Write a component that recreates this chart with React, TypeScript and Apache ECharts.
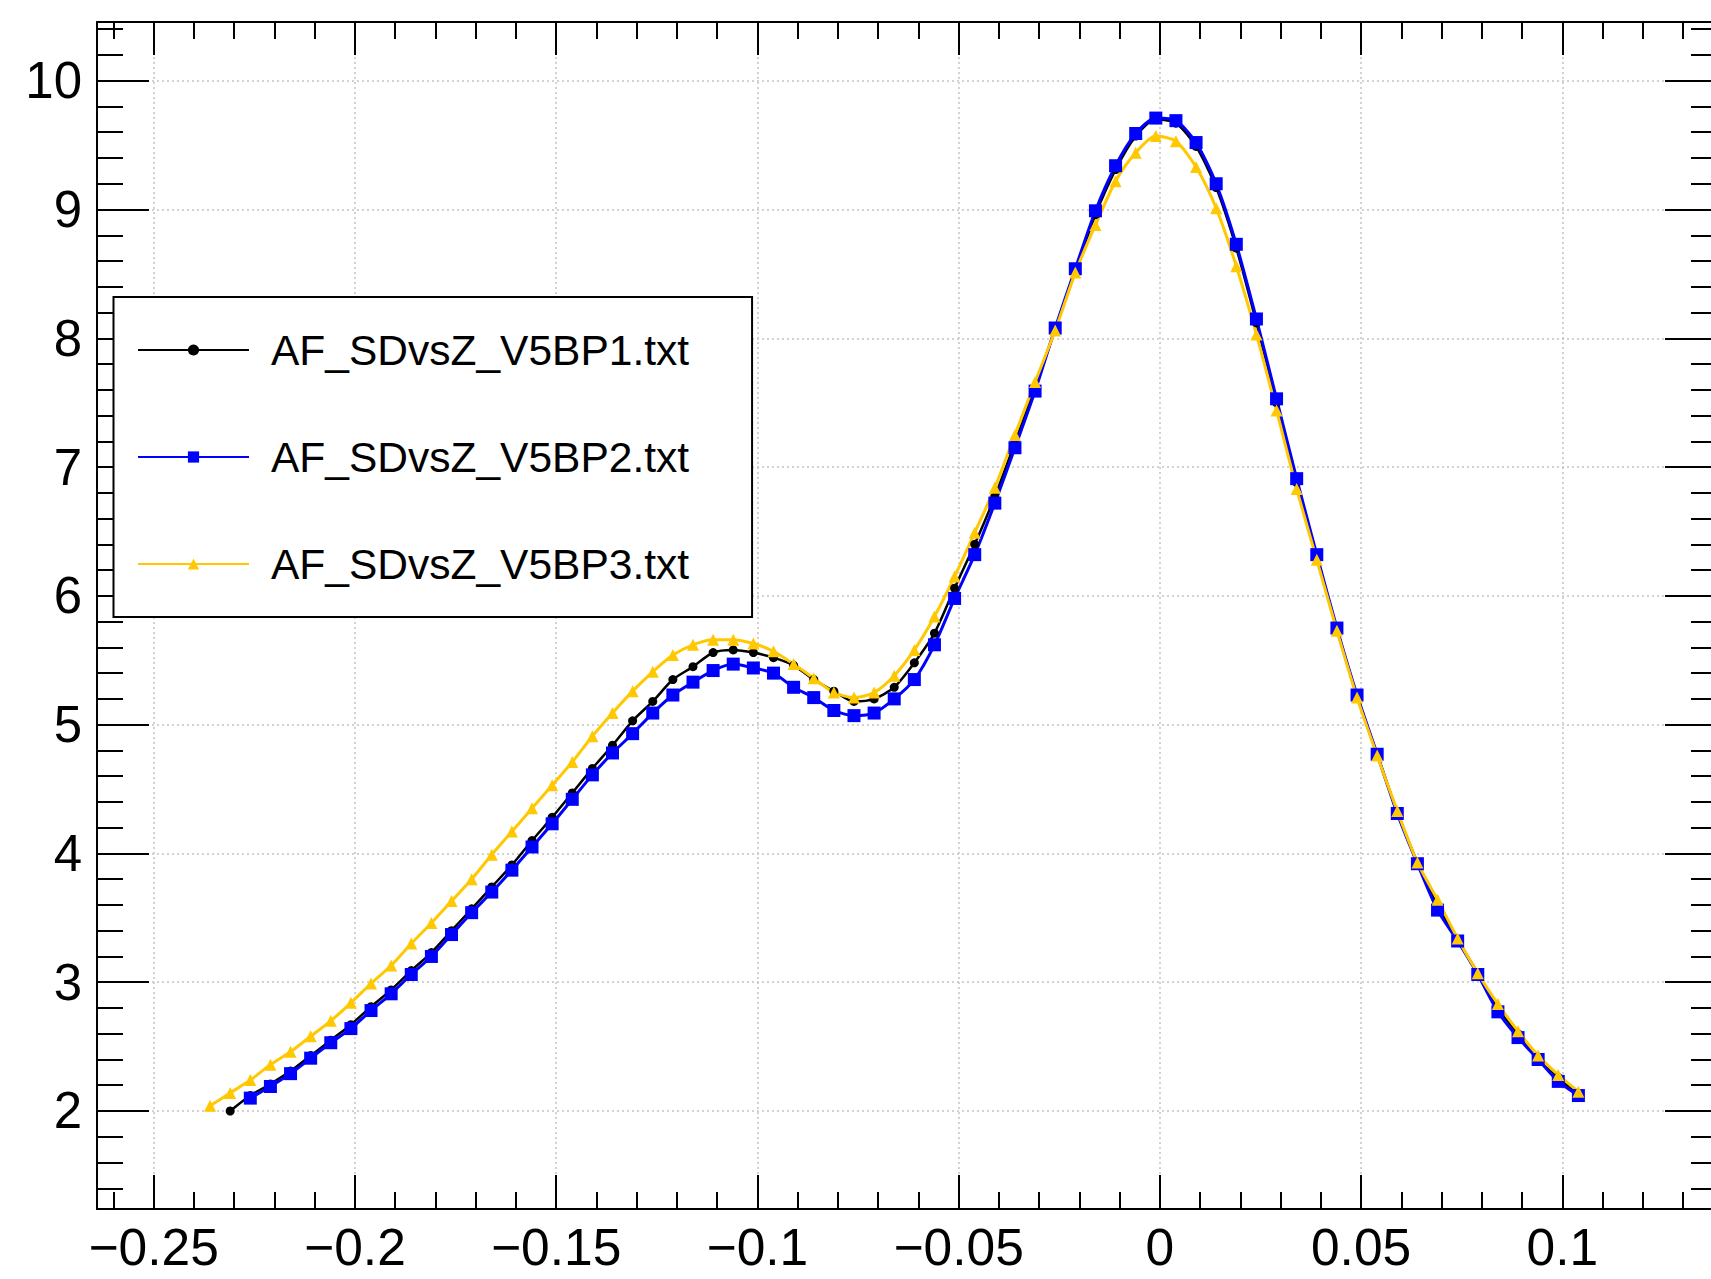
import React, { useEffect, useRef } from "react";
import * as echarts from "echarts";

// ---- data ----
const X_VALUES = [
  -0.236, -0.231, -0.226, -0.221, -0.216, -0.211, -0.206, -0.201, -0.196, -0.191,
  -0.186, -0.181, -0.176, -0.171, -0.166, -0.161, -0.156, -0.151, -0.146, -0.141,
  -0.136, -0.131, -0.126, -0.121, -0.116, -0.111, -0.106, -0.101, -0.096, -0.091,
  -0.086, -0.081, -0.076, -0.071, -0.066, -0.061, -0.056, -0.051, -0.046, -0.041,
  -0.036, -0.031, -0.026, -0.021, -0.016, -0.011, -0.006, -0.001, 0.004, 0.009,
  0.014, 0.019, 0.024, 0.029, 0.034, 0.039, 0.044, 0.049, 0.054, 0.059,
  0.064, 0.069, 0.074, 0.079, 0.084, 0.089, 0.094, 0.099, 0.104,
];

// V5BP1 (black) starts at X_VALUES[1]
const BP1_VALUES = [
  2.0, 2.12, 2.21, 2.31, 2.43, 2.55, 2.67, 2.81, 2.94,
  3.09, 3.23, 3.4, 3.57, 3.74, 3.91, 4.1, 4.28, 4.47, 4.66,
  4.84, 5.03, 5.18, 5.35, 5.45, 5.56, 5.58, 5.56, 5.52, 5.46,
  5.35, 5.26, 5.18, 5.2, 5.29, 5.48, 5.71, 6.06, 6.4, 6.77,
  7.19, 7.62, 8.07, 8.52, 8.96, 9.31, 9.57, 9.7, 9.67, 9.49,
  9.17, 8.7, 8.12, 7.5, 6.88, 6.3, 5.74, 5.22, 4.77, 4.32,
  3.93, 3.6, 3.33, 3.07, 2.8, 2.6, 2.42, 2.26, 2.13,
];

// V5BP2 (blue) starts at X_VALUES[2]
const BP2_VALUES = [
  2.1, 2.19, 2.29, 2.41, 2.53, 2.64, 2.78, 2.91,
  3.06, 3.2, 3.37, 3.54, 3.7, 3.87, 4.05, 4.23, 4.42, 4.61,
  4.78, 4.93, 5.09, 5.23, 5.33, 5.42, 5.47, 5.44, 5.4, 5.29,
  5.21, 5.11, 5.07, 5.09, 5.2, 5.35, 5.62, 5.98, 6.32, 6.72,
  7.15, 7.59, 8.08, 8.54, 8.99, 9.34, 9.59, 9.71, 9.69, 9.52,
  9.2, 8.73, 8.15, 7.53, 6.91, 6.32, 5.75, 5.23, 4.77, 4.31,
  3.92, 3.56, 3.32, 3.06, 2.77, 2.57, 2.4, 2.23, 2.12,
];

// V5BP3 (yellow) starts at X_VALUES[0]
const BP3_VALUES = [
  2.04, 2.14, 2.24, 2.36, 2.46, 2.58, 2.7, 2.84, 2.99, 3.13,
  3.3, 3.46, 3.63, 3.8, 3.99, 4.17, 4.35, 4.53, 4.71, 4.91,
  5.09, 5.26, 5.41, 5.54, 5.62, 5.66, 5.66, 5.63, 5.57, 5.47,
  5.36, 5.25, 5.21, 5.25, 5.38, 5.58, 5.84, 6.15, 6.49, 6.84,
  7.25, 7.66, 8.06, 8.51, 8.88, 9.22, 9.44, 9.57, 9.53, 9.33,
  9.01, 8.56, 8.03, 7.44, 6.83, 6.28, 5.73, 5.21, 4.76, 4.33,
  3.93, 3.64, 3.34, 3.07, 2.83, 2.62, 2.43, 2.28, 2.15,
];

const SERIES_NAMES = ["AF_SDvsZ_V5BP1.txt", "AF_SDvsZ_V5BP2.txt", "AF_SDvsZ_V5BP3.txt"];

const X_MAJOR = [-0.25, -0.2, -0.15, -0.1, -0.05, 0, 0.05, 0.1];
const X_MINOR = [
  -0.26, -0.24, -0.23, -0.22, -0.21, -0.19, -0.18, -0.17, -0.16, -0.14, -0.13, -0.12,
  -0.11, -0.09, -0.08, -0.07, -0.06, -0.04, -0.03, -0.02, -0.01, 0.01, 0.02, 0.03,
  0.04, 0.06, 0.07, 0.08, 0.09, 0.11, 0.12, 0.13,
];
const Y_MAJOR = [2, 3, 4, 5, 6, 7, 8, 9, 10];
const Y_MINOR = [
  1.4, 1.6, 1.8, 2.2, 2.4, 2.6, 2.8, 3.2, 3.4, 3.6, 3.8, 4.2, 4.4, 4.6, 4.8,
  5.2, 5.4, 5.6, 5.8, 6.2, 6.4, 6.6, 6.8, 7.2, 7.4, 7.6, 7.8, 8.2, 8.4, 8.6, 8.8,
  9.2, 9.4, 9.6, 9.8, 10.2, 10.4,
];

const X_MIN = -0.26409;
const X_MAX = 0.13844;
const Y_MIN = 1.239;
const Y_MAX = 10.456;

const FONT = "'Liberation Sans', Arial, Helvetica, sans-serif";

function pairs(values: number[], offset: number) {
  return values.map((v, i) => [X_VALUES[i + offset], v]);
}

function xAxisDef(position: string, ticks: number[], len: number, main: boolean, showLine: boolean) {
  return {
    type: "value",
    position,
    min: X_MIN,
    max: X_MAX,
    axisLine: { show: showLine, onZero: false, lineStyle: { color: "#000", width: 2 } },
    axisTick: { show: true, inside: true, length: len, customValues: ticks, lineStyle: { color: "#000", width: 2 } },
    minorTick: { show: false },
    axisLabel: main
      ? {
          show: true,
          customValues: X_MAJOR,
          margin: 12,
          fontSize: 51.5,
          fontFamily: FONT,
          color: "#000",
          formatter: (v: number) => (v < 0 ? "\u2212" + String(Math.abs(v)) : String(v)),
        }
      : { show: false },
    splitLine: main
      ? { show: true, lineStyle: { color: "#c4c4c4", width: 1.5, type: [2, 3] } }
      : { show: false },
  };
}

function yAxisDef(position: string, ticks: number[], len: number, main: boolean, showLine: boolean) {
  return {
    type: "value",
    position,
    min: Y_MIN,
    max: Y_MAX,
    axisLine: { show: showLine, onZero: false, lineStyle: { color: "#000", width: 2 } },
    axisTick: { show: true, inside: true, length: len, customValues: ticks, lineStyle: { color: "#000", width: 2 } },
    minorTick: { show: false },
    axisLabel: main
      ? {
          show: true,
          customValues: Y_MAJOR,
          margin: 15,
          fontSize: 51,
          fontFamily: FONT,
          color: "#000",
          padding: [5, 0, 0, 0],
          formatter: (v: number) => String(v),
        }
      : { show: false },
    splitLine: main
      ? { show: true, lineStyle: { color: "#c4c4c4", width: 1.5, type: [2, 3] } }
      : { show: false },
  };
}

export default function App() {
  const ref = useRef<HTMLDivElement>(null);

  useEffect(() => {
    if (!ref.current) return;
    const chart = echarts.init(ref.current, null, { renderer: "svg" });
    const option: any = {
      animation: false,
      backgroundColor: "#fff",
      grid: { left: 97, top: 22, width: 1620, height: 1187, containLabel: false, outerBoundsMode: "none" },
      xAxis: [
        xAxisDef("bottom", X_MAJOR, 34, true, true),
        xAxisDef("bottom", X_MINOR, 17, false, false),
        xAxisDef("top", X_MAJOR, 33, false, true),
        xAxisDef("top", X_MINOR, 17, false, false),
      ],
      yAxis: [
        yAxisDef("left", Y_MAJOR, 52, true, true),
        yAxisDef("left", Y_MINOR, 26, false, false),
        yAxisDef("right", Y_MAJOR, 52, false, true),
        yAxisDef("right", Y_MINOR, 26, false, false),
      ],
      legend: {
        orient: "vertical",
        left: 113.5,
        top: 297,
        padding: [28, 63, 28, 23.5],
        itemWidth: 111,
        itemHeight: 14,
        itemGap: 57,
        borderColor: "#000",
        borderWidth: 2,
        backgroundColor: "#fff",
        selectedMode: false,
        data: SERIES_NAMES,
        textStyle: {
          fontSize: 42.5,
          lineHeight: 50,
          fontFamily: FONT,
          color: "#000",
          padding: [0, 0, 0, 17],
        },
      },
      series: [
        {
          name: SERIES_NAMES[0],
          type: "line",
          xAxisIndex: 0,
          yAxisIndex: 0,
          data: pairs(BP1_VALUES, 1),
          symbol: "circle",
          symbolSize: 9,
          smooth: 0.25,
          color: "#000000",
          lineStyle: { color: "#000000", width: 2.5 },
          itemStyle: { color: "#000000" },
          emphasis: { disabled: true },
        },
        {
          name: SERIES_NAMES[1],
          type: "line",
          xAxisIndex: 0,
          yAxisIndex: 0,
          data: pairs(BP2_VALUES, 2),
          symbol: "rect",
          symbolSize: 13,
          smooth: 0.25,
          color: "#0000ff",
          lineStyle: { color: "#0000ff", width: 3 },
          itemStyle: { color: "#0000ff" },
          emphasis: { disabled: true },
        },
        {
          name: SERIES_NAMES[2],
          type: "line",
          xAxisIndex: 0,
          yAxisIndex: 0,
          data: pairs(BP3_VALUES, 0),
          symbol: "triangle",
          symbolSize: 12,
          smooth: 0.25,
          color: "#ffc800",
          lineStyle: { color: "#ffc800", width: 3 },
          itemStyle: { color: "#ffc800" },
          emphasis: { disabled: true },
        },
      ],
    };
    chart.setOption(option);
    return () => chart.dispose();
  }, []);

  return (
    <div
      style={{
        position: "fixed",
        left: 0,
        top: 0,
        width: 1711,
        height: 1279,
        overflow: "hidden",
        background: "#fff",
      }}
    >
      <div ref={ref} style={{ width: 1740, height: 1279 }} />
    </div>
  );
}
